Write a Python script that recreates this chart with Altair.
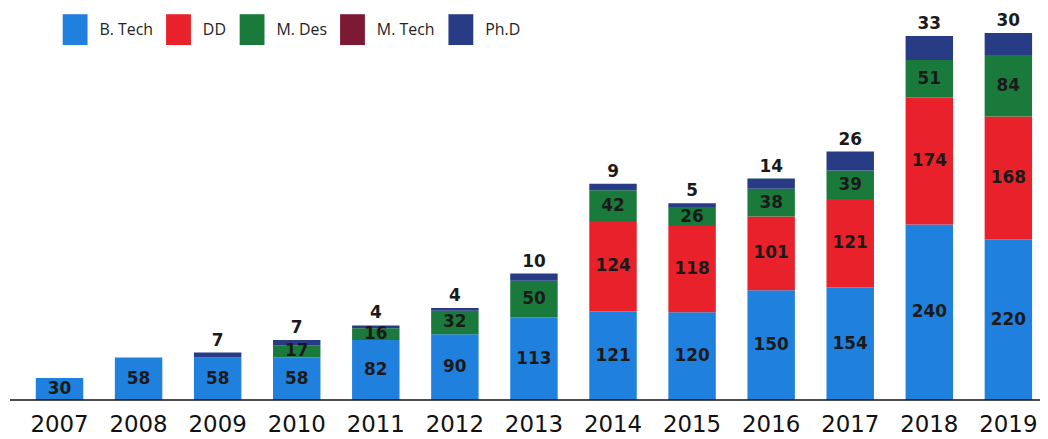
import altair as alt
import pandas as pd

years = ["2007", "2008", "2009", "2010", "2011", "2012", "2013",
         "2014", "2015", "2016", "2017", "2018", "2019"]
series = ["B. Tech", "DD", "M. Des", "M. Tech", "Ph.D"]
btech = [30, 58, 58, 58, 82, 90, 113, 121, 120, 150, 154, 240, 220]
dd    = [0, 0, 0, 0, 0, 0, 0, 124, 118, 101, 121, 174, 168]
mdes  = [0, 0, 0, 17, 16, 32, 50, 42, 26, 38, 39, 51, 84]
mtech = [0, 0, 0, 0, 0, 0, 0, 0, 0, 0, 0, 0, 0]
phd   = [0, 0, 7, 7, 4, 4, 10, 9, 5, 14, 26, 33, 30]
colors = ["#1f80de", "#e8212b", "#1a7a3c", "#7d1a33", "#273c85"]

rows = []
for si, (name, vals) in enumerate(zip(series, [btech, dd, mdes, mtech, phd])):
    for y, v in zip(years, vals):
        rows.append({"year": y, "series": name, "value": v, "order": si})
df = pd.DataFrame(rows)

W, H = 1018, 383

base = alt.Chart(df).transform_stack(
    stack="value", groupby=["year"], as_=["y0", "y1"],
    sort=[alt.SortField("order", order="ascending")]
).transform_calculate(mid="(datum.y0 + datum.y1) / 2")

xenc = alt.X("year:N", sort=years, title=None,
             scale=alt.Scale(paddingInner=0.4, paddingOuter=0.1),
             axis=alt.Axis(labelAngle=0, ticks=False, domain=False,
                           labelFont="DejaVu Sans", labelFontSize=23,
                           labelColor="#111111", labelPadding=14))
yscale = alt.Scale(domain=[0, 521])

bars = base.mark_bar().encode(
    x=xenc,
    y=alt.Y("y0:Q", scale=yscale, axis=None),
    y2="y1:Q",
    color=alt.Color("series:N", sort=series,
                    scale=alt.Scale(domain=series, range=colors),
                    legend=alt.Legend(title=None, orient="none", direction="horizontal",
                                      legendX=32, legendY=-5, padding=0,
                                      symbolType="M-0.806,-1H0.806V1H-0.806Z",
                                      symbolSize=961, symbolStrokeWidth=0,
                                      symbolOpacity=1,
                                      labelFont="Open Sans", labelFontSize=16,
                                      labelColor="#222222", labelOffset=9,
                                      columnPadding=10)),
)

inside = base.transform_filter(
    "datum.series != 'Ph.D' && datum.value > 0"
).mark_text(font="DejaVu Sans", fontWeight="bold", fontSize=17,
            color="#1a1a1a", baseline="middle").encode(
    x=alt.X("year:N", sort=years),
    y=alt.Y("mid:Q", scale=yscale),
    text="value:Q",
)

above = base.transform_filter(
    "datum.series == 'Ph.D' && datum.value > 0"
).mark_text(font="DejaVu Sans", fontWeight="bold", fontSize=17,
            color="#1a1a1a", baseline="alphabetic", dy=-7).encode(
    x=alt.X("year:N", sort=years),
    y=alt.Y("y1:Q", scale=yscale),
    text="value:Q",
)

baseline = alt.Chart(pd.DataFrame({"a": [0]})).mark_rule(
    color="#111111", strokeWidth=1.5
).encode(x=alt.value(-18), x2=alt.value(W + 1), y=alt.value(H))

chart = alt.layer(bars, inside, above, baseline).properties(
    width=W, height=H,
    autosize=alt.AutoSizeParams(type="none"),
    padding={"left": 20, "top": 10, "right": 0, "bottom": 40},
).configure_view(stroke=None).configure_axis(grid=False)

chart.save("out.html", embed_options={"renderer": "svg", "actions": False})
